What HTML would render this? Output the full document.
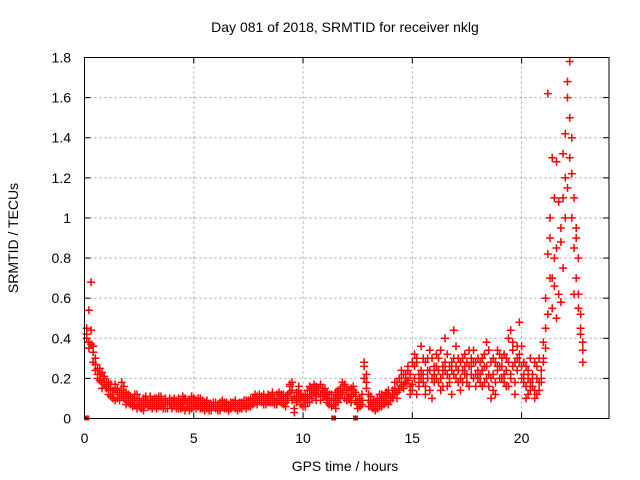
<!DOCTYPE html>
<html><head><meta charset="utf-8"><style>
html,body{margin:0;padding:0;background:#fff}
svg{display:block;font-family:"Liberation Sans",sans-serif}
</style></head><body>
<svg id="chart" width="640" height="480" viewBox="0 0 640 480">
<rect width="640" height="480" fill="#fff"/>
<text x="345" y="32" font-size="14" text-anchor="middle">Day 081 of 2018, SRMTID for receiver nklg</text>
<text x="345" y="471" font-size="14" text-anchor="middle">GPS time / hours</text>
<text transform="translate(18,238) rotate(-90)" font-size="14" text-anchor="middle">SRMTID / TECUs</text>
<g id="grid"></g>
<g id="ticks"></g>
<g id="marks"></g>
<rect x="84.5" y="57.5" width="524.5" height="361" fill="none" stroke="#000" stroke-width="1"/>
</svg>
<script>
const xTicks=[0,5,10,15,20];
const yTicks=[0,0.2,0.4,0.6,0.8,1,1.2,1.4,1.6,1.8];
const yTickLabels=["0","0.2","0.4","0.6","0.8","1","1.2","1.4","1.6","1.8"];
const tStart=0.1, tStep=0.1;
const series1=[0.42,0.38,0.68,0.36,0.30,0.25,0.22,0.18,0.20,0.16,
0.14,0.17,0.12,0.15,0.10,0.13,0.11,0.16,0.09,0.12,
0.08,0.10,0.07,0.09,0.06,0.08,0.10,0.07,0.09,0.06,
0.08,0.07,0.10,0.06,0.09,0.07,0.05,0.08,0.10,0.07,
0.06,0.09,0.05,0.08,0.07,0.10,0.06,0.04,0.08,0.07,
0.09,0.06,0.08,0.05,0.07,0.06,0.04,0.07,0.06,0.05,
0.07,0.05,0.06,0.08,0.05,0.07,0.06,0.08,0.05,0.07,
0.06,0.08,0.07,0.05,0.09,0.07,0.10,0.08,0.11,0.09,
0.08,0.10,0.07,0.09,0.11,0.08,0.10,0.12,0.09,0.11,
0.10,0.08,0.12,0.16,0.09,0.05,0.13,0.10,0.07,0.09,
0.06,0.10,0.12,0.15,0.13,0.16,0.14,0.12,0.15,0.13,
0.10,0.07,0.12,0.09,0.05,0.11,0.15,0.12,0.16,0.09,
0.14,0.11,0.16,0.13,0.08,0.06,0.09,0.26,0.22,0.12,
0.08,0.05,0.07,0.10,0.06,0.09,0.11,0.08,0.12,0.10,
0.14,0.12,0.18,0.15,0.20,0.17,0.22,0.19,0.16,0.14,
0.32,0.30,0.18,0.24,0.22,0.28,0.20,0.14,0.30,0.22,
0.26,0.18,0.34,0.22,0.28,0.16,0.20,0.24,0.30,0.36,
0.18,0.28,0.24,0.32,0.22,0.26,0.30,0.20,0.28,0.24,
0.22,0.30,0.18,0.26,0.34,0.20,0.14,0.28,0.24,0.32,
0.26,0.18,0.30,0.40,0.22,0.34,0.28,0.36,0.32,0.26,
0.22,0.16,0.12,0.18,0.20,0.14,0.26,0.18,0.24,0.38,
0.45,1.62,0.70,1.30,1.10,0.85,0.62,0.95,0.75,1.20,
1.60,1.78,1.40,1.10,0.90,0.62,0.45,0.38];
const series2=[0.45,0.54,0.37,0.33,0.27,0.22,0.19,0.23,0.17,0.15,
0.18,0.11,0.14,0.09,0.15,0.12,0.18,0.10,0.13,0.08,
0.11,0.06,0.09,0.12,0.07,0.05,0.08,0.11,0.06,0.09,
0.05,0.10,0.08,0.11,0.06,0.08,0.10,0.05,0.07,0.09,
0.10,0.05,0.08,0.06,0.11,0.04,0.08,0.09,0.05,0.10,
0.05,0.08,0.10,0.07,0.04,0.09,0.06,0.05,0.08,0.07,
0.04,0.08,0.06,0.05,0.07,0.04,0.08,0.06,0.09,0.05,
0.08,0.05,0.09,0.07,0.06,0.10,0.08,0.12,0.07,0.10,
0.11,0.07,0.09,0.12,0.08,0.10,0.07,0.09,0.13,0.08,
0.07,0.11,0.09,0.13,0.18,0.11,0.08,0.14,0.12,0.06,
0.09,0.14,0.08,0.11,0.17,0.12,0.15,0.09,0.14,0.11,
0.13,0.09,0.06,0.10,0.13,0.08,0.12,0.18,0.10,0.14,
0.10,0.15,0.12,0.09,0.05,0.10,0.07,0.28,0.18,0.09,
0.11,0.07,0.04,0.08,0.12,0.06,0.09,0.13,0.07,0.11,
0.10,0.15,0.13,0.20,0.16,0.22,0.18,0.24,0.12,0.28,
0.26,0.12,0.22,0.36,0.18,0.16,0.30,0.24,0.10,0.26,
0.20,0.30,0.14,0.26,0.40,0.22,0.18,0.28,0.44,0.20,
0.24,0.14,0.30,0.26,0.18,0.34,0.22,0.28,0.16,0.30,
0.28,0.16,0.26,0.38,0.22,0.10,0.30,0.18,0.26,0.20,
0.20,0.32,0.24,0.16,0.44,0.26,0.18,0.30,0.48,0.20,
0.28,0.10,0.24,0.14,0.22,0.28,0.12,0.30,0.20,0.30,
0.60,0.82,1.00,0.55,0.80,1.28,0.62,0.58,1.32,1.00,
1.15,1.50,1.22,0.85,0.70,0.80,0.52,0.28];
const series3=[0.40,0.35,0.44,0.28,0.24,0.20,0.25,0.15,0.21,0.18,
0.12,0.15,0.10,0.17,0.13,0.09,0.14,0.12,0.07,0.10,
0.07,0.09,0.12,0.05,0.10,0.07,0.04,0.09,0.08,0.11,
0.09,0.06,0.05,0.08,0.11,0.05,0.08,0.07,0.09,0.05,
0.07,0.08,0.10,0.05,0.06,0.09,0.07,0.05,0.11,0.06,
0.06,0.10,0.05,0.09,0.08,0.05,0.07,0.04,0.06,0.08,
0.06,0.04,0.09,0.06,0.08,0.06,0.05,0.07,0.06,0.04,
0.05,0.07,0.06,0.09,0.08,0.06,0.07,0.10,0.09,0.12,
0.09,0.12,0.10,0.08,0.10,0.13,0.09,0.07,0.10,0.12,
0.12,0.06,0.10,0.17,0.14,0.03,0.10,0.16,0.09,0.11,
0.12,0.08,0.16,0.10,0.14,0.09,0.12,0.17,0.11,0.15,
0.08,0.12,0.10,0.07,0.09,0.14,0.10,0.13,0.17,0.12,
0.12,0.08,0.14,0.11,0.07,0.08,0.12,0.20,0.15,0.06,
0.06,0.09,0.08,0.05,0.08,0.12,0.07,0.10,0.14,0.09,
0.12,0.18,0.10,0.14,0.24,0.15,0.20,0.26,0.22,0.17,
0.20,0.28,0.16,0.20,0.30,0.12,0.24,0.34,0.20,0.18,
0.32,0.24,0.20,0.16,0.24,0.32,0.26,0.12,0.22,0.26,
0.30,0.20,0.18,0.22,0.28,0.16,0.26,0.34,0.22,0.20,
0.18,0.24,0.32,0.20,0.16,0.28,0.22,0.12,0.34,0.26,
0.30,0.22,0.16,0.28,0.20,0.38,0.12,0.24,0.28,0.36,
0.18,0.26,0.20,0.30,0.16,0.10,0.20,0.14,0.18,0.28,
0.35,0.52,0.90,0.70,0.66,0.50,1.08,0.88,1.10,1.42,
1.68,1.30,1.00,0.62,0.95,0.55,0.42,0.34];
const zeroTimes=[0.1,11.4,12.4];

const NS="http://www.w3.org/2000/svg";
const X0=84.5,X1=609,Y0=418.5,Y1=57.5,XMAX=24,YMAX=1.8;
function sx(v){return X0+(X1-X0)*v/XMAX;}
function sy(v){return Y0-(Y0-Y1)*v/YMAX;}
const grid=document.getElementById('grid'),ticks=document.getElementById('ticks'),marks=document.getElementById('marks');
function mk(tag,attrs,parent){const e=document.createElementNS(NS,tag);for(const k in attrs)e.setAttribute(k,attrs[k]);parent.appendChild(e);return e;}
xTicks.forEach(function(t){
  const x=sx(t);
  if(t>0){const g=mk('line',{x1:x,y1:Y0,x2:x,y2:Y1,stroke:'#a0a0a0','stroke-dasharray':'2,3'},grid);
  
  }
  mk('line',{x1:x,y1:Y0,x2:x,y2:Y0-6,stroke:'#000'},ticks);
  mk('line',{x1:x,y1:Y1,x2:x,y2:Y1+6,stroke:'#000'},ticks);
  const l=mk('text',{x:x,y:443,'font-size':14,'text-anchor':'middle'},ticks);
  l.textContent=String(t);
  
  
});
yTicks.forEach(function(v,i){
  const y=sy(v);
  if(v>0&&v<YMAX){const g=mk('line',{x1:X0,y1:y,x2:X1,y2:y,stroke:'#a0a0a0','stroke-dasharray':'2,3'},grid);
  
  }
  mk('line',{x1:X0,y1:y,x2:X0+6,y2:y,stroke:'#000'},ticks);
  mk('line',{x1:X1,y1:y,x2:X1-6,y2:y,stroke:'#000'},ticks);
  const l=mk('text',{x:71,y:y+5,'font-size':14,'text-anchor':'end'},ticks);
  l.textContent=yTickLabels[i];
  
  
});
let d='';
[series1,series2,series3].forEach(function(s){
  s.forEach(function(v,i){
    const x=sx(tStart+i*tStep),y=sy(v);
    d+='M'+(x-4).toFixed(1)+' '+y.toFixed(1)+'h8M'+x.toFixed(1)+' '+(y-4).toFixed(1)+'v8';
  });
});
const p=mk('path',{d:d,stroke:'#ff0000','stroke-width':1.5,fill:'none'},marks);


zeroTimes.forEach(function(t){
  const r=mk('rect',{x:sx(t)-2.5,y:Y0-3,width:5,height:5,fill:'#ff0000'},marks);
  
  
});
</script>
</body></html>
